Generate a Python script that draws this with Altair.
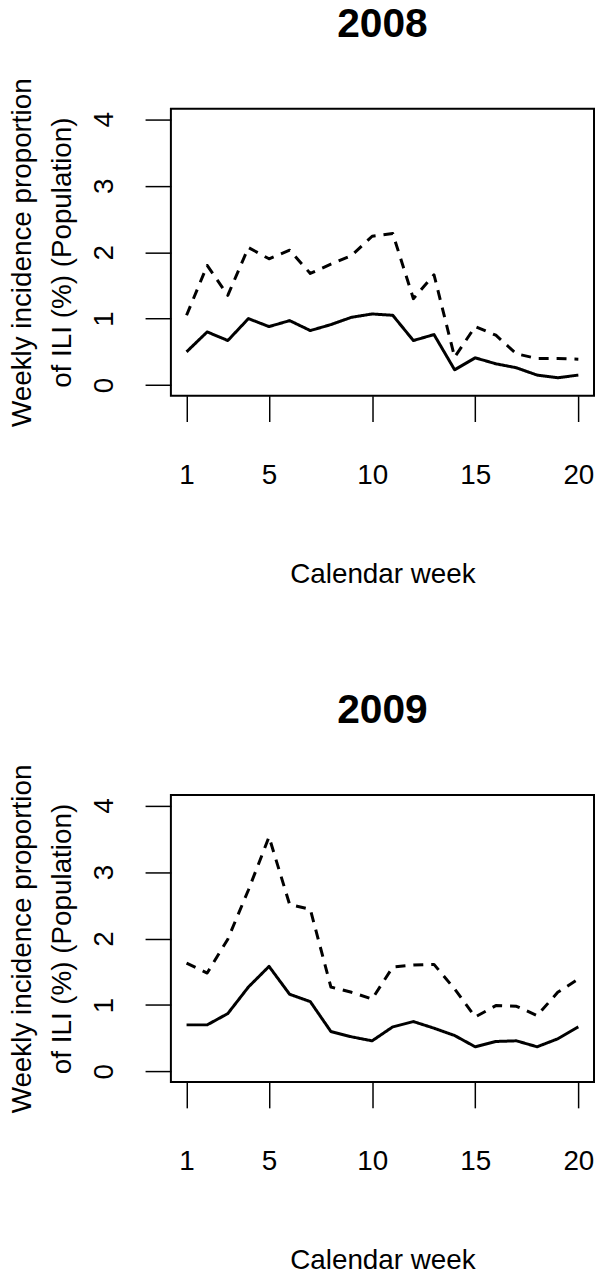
import altair as alt
import pandas as pd

weeks = [1, 2, 3, 4, 5, 6, 7, 8, 9, 10, 11, 12, 13, 14, 15, 16, 17, 18, 19, 20]
week_ticks = [1, 5, 10, 15, 20]
y_ticks = [0, 1, 2, 3, 4]

ili_2008_solid = [0.50, 0.80, 0.67, 1.00, 0.88, 0.97, 0.82, 0.91, 1.02, 1.07,
                  1.05, 0.67, 0.76, 0.23, 0.41, 0.32, 0.26, 0.15, 0.11, 0.15]
ili_2008_dashed = [1.05, 1.80, 1.35, 2.07, 1.90, 2.03, 1.68, 1.82, 1.95, 2.24,
                   2.28, 1.30, 1.66, 0.42, 0.88, 0.75, 0.47, 0.40, 0.40, 0.39]
ili_2009_solid = [0.70, 0.70, 0.87, 1.27, 1.58, 1.16, 1.05, 0.60, 0.52, 0.46,
                  0.67, 0.75, 0.65, 0.54, 0.37, 0.45, 0.46, 0.37, 0.49, 0.67]
ili_2009_dashed = [1.63, 1.48, 1.99, 2.73, 3.53, 2.51, 2.44, 1.27, 1.19, 1.09,
                   1.57, 1.60, 1.61, 1.24, 0.82, 0.99, 0.98, 0.84, 1.19, 1.39]

FONT = "Liberation Sans"
W, H = 426, 289


def panel(year, solid, dashed):
    df = pd.DataFrame({"week": weeks, "solid": solid, "dashed": dashed})
    x = alt.X(
        "week:Q",
        scale=alt.Scale(domain=[0.24, 20.76], nice=False, zero=False),
        axis=alt.Axis(
            values=week_ticks, title="Calendar week", titleY=180,
            titleBaseline="middle", titleAlign="center",
            labelPadding=54, labelBaseline="middle", labelAlign="center",
        ),
    )
    y = alt.Y(
        "value:Q",
        scale=alt.Scale(domain=[-0.16, 4.16], nice=False, zero=False),
        axis=alt.Axis(
            values=y_ticks,
            title=["Weekly incidence proportion", "of ILI (%) (Population)"],
            titleAngle=270, titleX=-149, titleY=H / 2, titleBaseline="middle",
            titleAlign="center", titleLineHeight=40,
            labelAngle=270, labelAlign="center", labelBaseline="middle",
            labelPadding=41,
        ),
    )
    return (
        alt.Chart(df)
        .transform_fold(["solid", "dashed"], as_=["series", "value"])
        .mark_line(color="black", strokeWidth=3, strokeJoin="round")
        .encode(
            x=x,
            y=y,
            strokeDash=alt.StrokeDash(
                "series:N",
                scale=alt.Scale(domain=["solid", "dashed"], range=[[1, 0], [10, 8]]),
                legend=None,
            ),
            detail="series:N",
        )
        .properties(
            width=W, height=H,
            title=alt.TitleParams(
                text=year, fontSize=41, fontWeight="bold", font=FONT,
                baseline="alphabetic", offset=0, frame="group", anchor="middle",
                color="black",
            ),
        )
    )


chart = (
    alt.vconcat(panel("2008", ili_2008_solid, ili_2008_dashed),
                panel("2009", ili_2009_solid, ili_2009_dashed), spacing=100)
    .properties(padding={"left": 0, "top": -10, "right": 0, "bottom": 0}, background="white")
    .configure_view(stroke="black", strokeWidth=2)
    .configure_axis(
        grid=False, domain=False, ticks=True, tickSize=26, tickWidth=1.5,
        tickColor="black", labelFont=FONT, labelFontSize=28, labelColor="black",
        titleFont=FONT, titleFontSize=28, titleFontWeight="normal", titleColor="black",
        labelFlush=False, labelOverlap=False,
    )
)

chart.save("out.html", embed_options={"renderer": "svg", "actions": False})
